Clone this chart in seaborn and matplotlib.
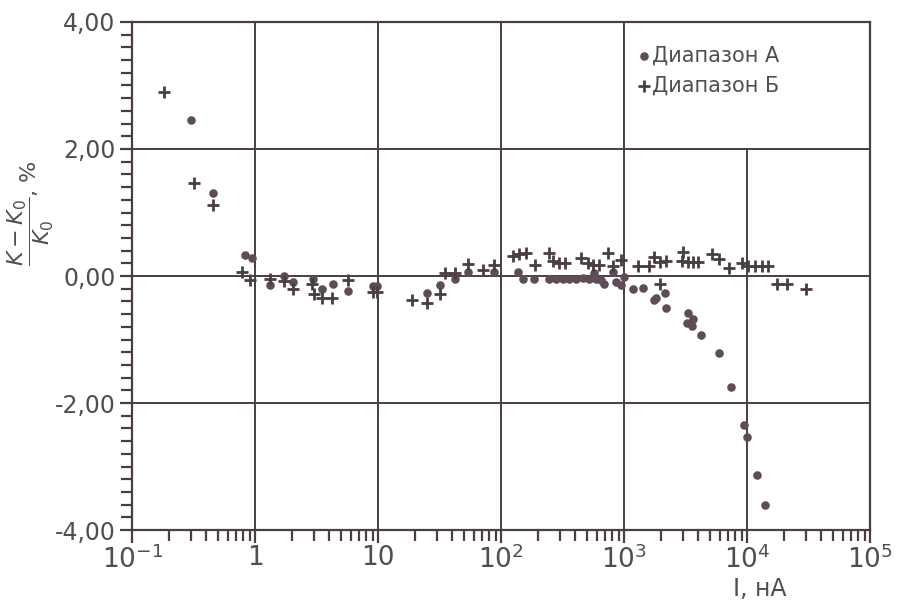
import matplotlib
matplotlib.use("Agg")
import matplotlib.pyplot as plt
from matplotlib.patches import Rectangle
from matplotlib.ticker import FixedLocator, MultipleLocator, LogLocator, NullFormatter
import seaborn as sns
import numpy as np
import pandas as pd

# Диапазон А (точки)
current_a = [0.30, 0.45, 0.82, 0.95,
             1.31, 1.71, 2.04, 2.95, 3.5, 4.3, 5.7, 9.1, 9.8,
             25, 31.6, 42, 54, 87,
             136, 151, 184, 245, 279, 317, 355, 405, 462, 516, 568, 590, 647, 687, 815, 861, 946, 1000,
             1170, 1430, 1740, 1820, 2130, 2200, 3300, 3650, 3250, 3550, 4200, 5900, 7400,
             9400, 9900, 12000, 14000]
dev_a = [2.46, 1.31, 0.33, 0.28,
         -0.14, 0.0, -0.10, -0.05, -0.20, -0.13, -0.24, -0.15, -0.15,
         -0.27, -0.14, -0.05, 0.06, 0.06,
         0.07, -0.04, -0.05, -0.04, -0.04, -0.04, -0.04, -0.04, -0.03, -0.04, 0.04, -0.04, -0.07, -0.12, 0.07, -0.09, -0.14, -0.02,
         -0.21, -0.19, -0.37, -0.34, -0.26, -0.50, -0.58, -0.68, -0.74, -0.79, -0.93, -1.21, -1.75,
         -2.35, -2.54, -3.14, -3.60]

# Диапазон Б (крестики)
current_b = [0.18, 0.32, 0.45, 0.78, 0.91,
             1.31, 1.71, 2.04, 2.9, 3.0, 3.5, 4.2, 5.7, 9.1, 9.8,
             19, 25, 31.6, 35, 42, 54, 71, 87,
             124, 139, 158, 188, 245, 264, 295, 330, 446, 508, 558, 625, 741, 815, 946,
             1290, 1580, 1740, 1950, 2190, 1950, 3020, 2950, 3310, 3630, 4000, 5130, 5890, 7080,
             9120, 10230, 11480, 13180, 14790, 17380, 20890, 30200]
dev_b = [2.90, 1.46, 1.12, 0.06, -0.06,
         -0.04, -0.08, -0.20, -0.13, -0.28, -0.35, -0.35, -0.07, -0.25, -0.25,
         -0.38, -0.43, -0.29, 0.05, 0.05, 0.19, 0.09, 0.18,
         0.31, 0.34, 0.37, 0.17, 0.36, 0.23, 0.20, 0.20, 0.28, 0.20, 0.17, 0.17, 0.36, 0.15, 0.25,
         0.16, 0.16, 0.30, 0.22, 0.24, -0.13, 0.38, 0.24, 0.22, 0.22, 0.22, 0.35, 0.27, 0.12,
         0.20, 0.16, 0.16, 0.16, 0.16, -0.12, -0.12, -0.20]

series_names = ["Диапазон А", "Диапазон Б"]
x_ticks = [0.1, 1, 10, 100, 1000, 10000, 100000]
x_tick_labels = [r"$10^{-1}$", "1", "10", r"$10^2$", r"$10^3$", r"$10^4$", r"$10^5$"]
y_ticks = [-4, -2, 0, 2, 4]
y_tick_labels = ["-4,00", "-2,00", "0,00", "2,00", "4,00"]

df_a = pd.DataFrame({"I": current_a, "dK": dev_a})
df_b = pd.DataFrame({"I": current_b, "dK": dev_b})

ink = "#4a3d45"
dot_col = "#5e4c57"
txt = "#4f4f4f"

sns.set_style("ticks")
plt.rcParams["font.family"] = ["DejaVu Sans"]

fig = plt.figure(figsize=(8.99, 6.1), dpi=100)
ax = fig.add_axes([0.147, 0.131, 0.821, 0.833])

sns.scatterplot(data=df_a, x="I", y="dK", ax=ax, marker="o", s=38, color=dot_col,
                edgecolor=dot_col, linewidth=0, label=series_names[0], zorder=3)
sns.scatterplot(data=df_b, x="I", y="dK", ax=ax, marker="+", s=70, color=ink,
                linewidth=2, label=series_names[1], zorder=3)

ax.set_xscale("log")
ax.set_xlim(0.1, 1e5)
ax.set_ylim(-4, 4)

ax.xaxis.set_major_locator(FixedLocator(x_ticks))
ax.set_xticklabels(x_tick_labels)
ax.xaxis.set_minor_locator(LogLocator(base=10, subs=np.arange(2, 10), numticks=20))
ax.xaxis.set_minor_formatter(NullFormatter())
ax.yaxis.set_major_locator(FixedLocator(y_ticks))
ax.set_yticklabels(y_tick_labels)
ax.yaxis.set_minor_locator(MultipleLocator(0.2))

ax.tick_params(which="both", direction="out", colors=ink, width=1.6, labelcolor=txt, labelsize=17)
ax.tick_params(which="major", length=9)
ax.tick_params(which="minor", length=8)
ax.tick_params(axis="x", pad=2, labelsize=19)
ax.tick_params(axis="y", pad=3)

ax.grid(True, which="major", color=ink, linewidth=1.4)
ax.set_axisbelow(True)
for sp in ax.spines.values():
    sp.set_visible(True)
    sp.set_color(ink)
    sp.set_linewidth(1.6)

# legend cell (covers the grid cell 10^3..10^5, 2..4)
ax.add_patch(Rectangle((1e3, 2), 1e5 - 1e3, 2, facecolor="white", edgecolor=ink,
                       linewidth=1.4, zorder=1))
leg = ax.legend(loc="upper left", bbox_to_anchor=(0.675, 0.97), frameon=False,
                fontsize=15, handlelength=0.5, handletextpad=0.15, labelspacing=0.5,
                borderaxespad=0)
for t in leg.get_texts():
    t.set_color(txt)

ax.set_xlabel("")
ax.set_ylabel("")
fig.text(0.034, 0.65, r"$\dfrac{K-K_0}{K_0}$, %", rotation=90, ha="center", va="center",
         fontsize=16, color=txt)
fig.text(0.845, 0.035, "I, нА", ha="center", va="center", fontsize=17, color=txt)

fig.savefig("out.png", dpi=100)
plt.close(fig)
